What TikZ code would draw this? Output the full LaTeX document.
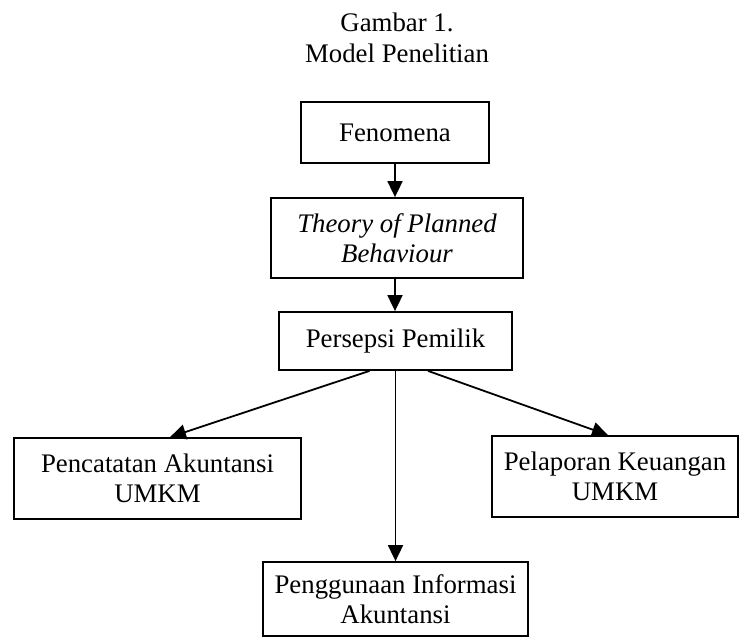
\documentclass[tikz,border=0pt]{standalone}
\usepackage{fontspec}
\setmainfont{Liberation Serif}
\usetikzlibrary{arrows.meta,calc}
\begin{document}
\begin{tikzpicture}[x=0.5pt,y=-0.5pt,
  box/.style={draw,line width=0.9pt,inner sep=0pt,align=center,
    font=\fontsize{13.4}{15}\selectfont},
  arr/.style={line width=0.9pt,-{Triangle[length=8pt,width=7.5pt]}},
  ttl/.style={anchor=base,inner sep=0pt,font=\fontsize{13.4}{15}\selectfont}]
\useasboundingbox (0,0) rectangle (748,639);
\node[ttl] (title1) at (397,31.7) {Gambar 1.};
\node[ttl] (title2) at (397,62.7) {Model Penelitian};
\node[box,minimum width=94pt,minimum height=30.5pt] (fen) at (395,132.5) {Fenomena};
\node[box,minimum width=126pt,minimum height=40pt] (tpb) at (397,238) {\itshape Theory of Planned\\\itshape Behaviour};
\node[box,minimum width=116.5pt,minimum height=29pt] (pers) at (395.5,341) {Persepsi Pemilik};
\node[box,minimum width=143.5pt,minimum height=40.5pt] (left) at (157.5,478.5) {Pencatatan Akuntansi\\UMKM};
\node[box,minimum width=123pt,minimum height=40.5pt] (right) at (615,476.5) {Pelaporan Keuangan\\UMKM};
\node[box,minimum width=132.5pt,minimum height=37pt] (bot) at (395.5,599) {Penggunaan Informasi\\Akuntansi};
\draw[arr] (fen.south) -- (fen.south |- tpb.north);
\draw[arr] (tpb.south -| fen.south) -- (fen.south |- pers.north);
\draw[arr] ($(pers.south)+(-26,0)$) -- ($(left.north)+(12.5,0)$);
\draw[arr] ($(pers.south)+(32.5,0)$) -- ($(right.north)+(-7,0)$);
\draw[arr] (pers.south) -- (pers.south |- bot.north);
\end{tikzpicture}
\end{document}
